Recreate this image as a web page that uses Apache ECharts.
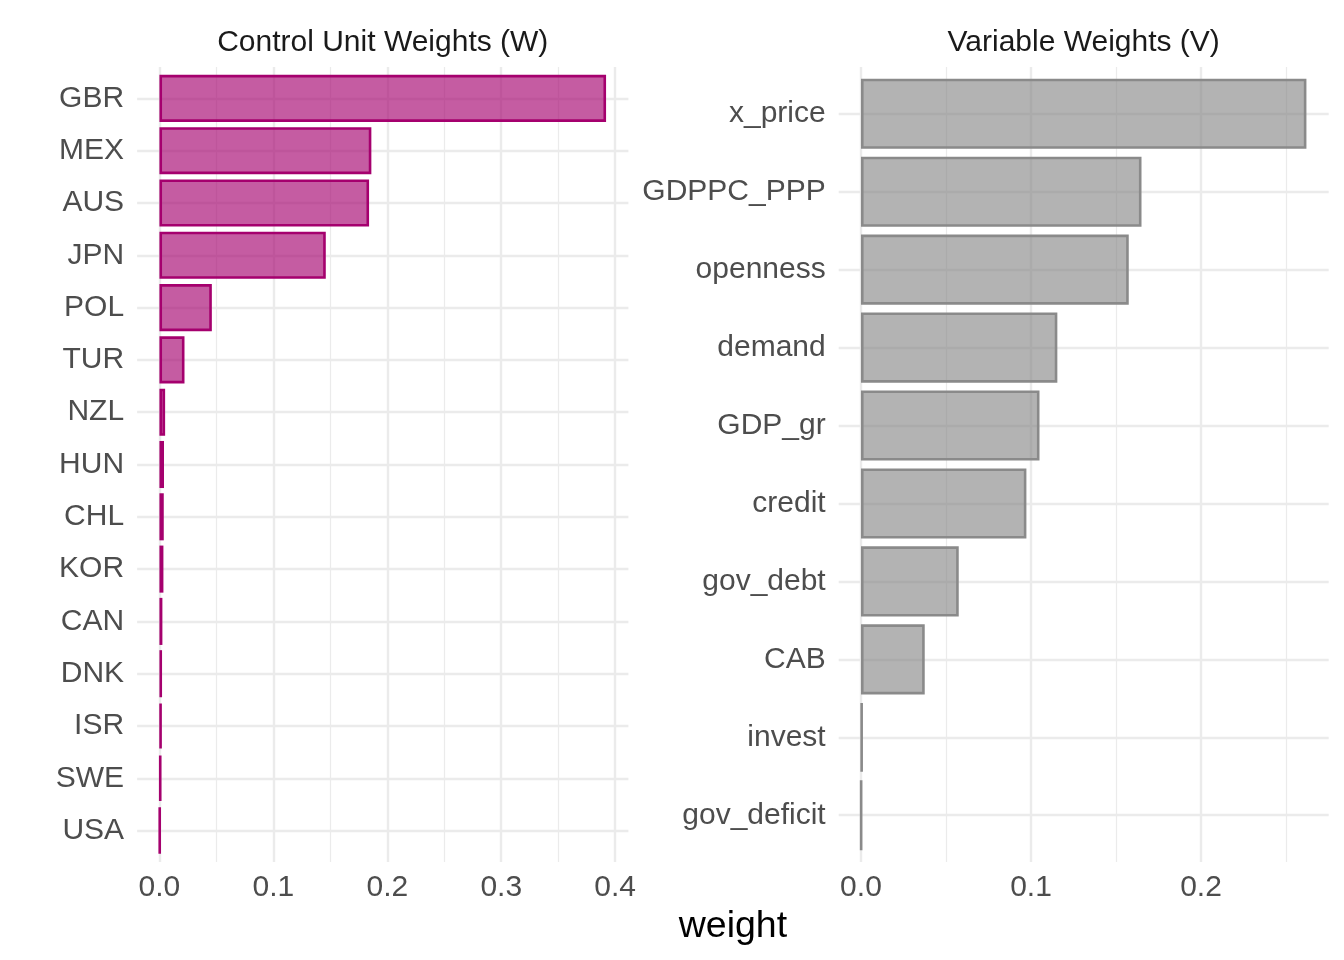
<!DOCTYPE html>
<html>
<head>
<meta charset="utf-8">
<script src="https://cdn.jsdelivr.net/npm/echarts@6/dist/echarts.min.js"></script>
<style>
html,body{margin:0;padding:0;background:#fff;}
#chart{width:1344px;height:960px;}
</style>
</head>
<body>
<div id="chart"></div>
<script>
// ---- data ----
const countries = ['GBR','MEX','AUS','JPN','POL','TUR','NZL','HUN','CHL','KOR','CAN','DNK','ISR','SWE','USA'];
const countryWeights = [0.392,0.186,0.184,0.146,0.046,0.022,0.005,0.004,0.0038,0.0035,0.0026,0.0023,0.002,0.0014,0.0005];
const variables = ['x_price','GDPPC_PPP','openness','demand','GDP_gr','credit','gov_debt','CAB','invest','gov_deficit'];
const variableWeights = [0.262,0.165,0.1575,0.1155,0.105,0.0973,0.0575,0.0375,0.0008,0.0002];
const wMajorTicks = [0,0.1,0.2,0.3,0.4];
const wMinorTicks = [0.05,0.15,0.25,0.35];
const vMajorTicks = [0,0.1,0.2];
const vMinorTicks = [0.05,0.15,0.25];
const titles = ['Control Unit Weights (W)','Variable Weights (V)'];
const xTitle = 'weight';

// ---- layout ----
const FONT = "'Liberation Sans', Arial, Helvetica, sans-serif";
const panelTop = 67, panelH = 795;
const L = {left: 137.1, width: 491.3};
const R = {left: 838.7, width: 490};
const wMax = Math.max(...countryWeights), vMax = Math.max(...variableWeights);
const wRange = [-0.05*wMax, 1.05*wMax];
const vRange = [-0.05*vMax, 1.05*vMax];
const unitL = panelH/(countries.length+0.2);
const unitR = panelH/(variables.length+0.2);

const gridColor = '#ebebeb';
const majorW = 2.4, minorW = 1.2;
const LABEL_SIZE = 30;

function lineAxis(gridIndex, range, ticks, width, showLabel){
  return {
    type:'value', gridIndex, min:range[0], max:range[1],
    axisLine:{show:false},
    axisTick:{show:false, customValues:ticks},
    axisLabel:{show:showLabel, customValues:ticks, color:'#4d4d4d', fontSize:LABEL_SIZE, fontFamily:FONT, margin:11,
      formatter:v=>Number(v).toFixed(1)},
    splitLine:{show:true, lineStyle:{color:gridColor, width:width}}
  };
}
function hiddenX(gridIndex, range){
  return {type:'value', gridIndex, min:range[0], max:range[1], show:false, splitLine:{show:false}};
}
function catAxis(gridIndex, cats){
  return {
    type:'category', gridIndex, data:cats, inverse:true,
    axisLine:{show:false},
    axisTick:{show:false, alignWithLabel:true},
    axisLabel:{color:'#4d4d4d', fontSize:LABEL_SIZE, fontFamily:FONT, margin:13, padding:[2,0,0,0]},
    splitLine:{show:true, alignWithLabel:true, lineStyle:{color:gridColor, width:majorW}}
  };
}

const option = {
  backgroundColor:'#ffffff',
  animation:false,
  grid:[
    {left:L.left, width:L.width, top:panelTop, height:panelH, containLabel:false},
    {left:L.left, width:L.width, top:panelTop+0.1*unitL, height:unitL*countries.length, containLabel:false},
    {left:R.left, width:R.width, top:panelTop, height:panelH, containLabel:false},
    {left:R.left, width:R.width, top:panelTop+0.1*unitR, height:unitR*variables.length, containLabel:false}
  ],
  xAxis:[
    lineAxis(0, wRange, wMajorTicks, majorW, true),
    lineAxis(0, wRange, wMinorTicks, minorW, false),
    hiddenX(1, wRange),
    lineAxis(2, vRange, vMajorTicks, majorW, true),
    lineAxis(2, vRange, vMinorTicks, minorW, false),
    hiddenX(3, vRange)
  ],
  yAxis:[
    {type:'value', gridIndex:0, min:0, max:1, show:false, splitLine:{show:false}},
    catAxis(1, countries),
    {type:'value', gridIndex:2, min:0, max:1, show:false, splitLine:{show:false}},
    catAxis(3, variables)
  ],
  series:[
    {type:'bar', xAxisIndex:2, yAxisIndex:1, data:countryWeights, barCategoryGap:'10%',
      itemStyle:{color:'rgba(165,0,110,0.64)', borderColor:'#a5006e', borderWidth:2.6}},
    {type:'bar', xAxisIndex:5, yAxisIndex:3, data:variableWeights, barCategoryGap:'10%',
      itemStyle:{color:'rgba(128,128,128,0.6)', borderColor:'#8a8a8a', borderWidth:2.6}}
  ],
  graphic:[
    {type:'text', x:L.left+L.width/2, y:43, style:{text:titles[0], fill:'#1a1a1a', font:'30px '+FONT, textAlign:'center', textVerticalAlign:'middle'}},
    {type:'text', x:R.left+R.width/2, y:43, style:{text:titles[1], fill:'#1a1a1a', font:'30px '+FONT, textAlign:'center', textVerticalAlign:'middle'}},
    {type:'text', x:(L.left+R.left+R.width)/2, y:927, style:{text:xTitle, fill:'#000000', font:'37.5px '+FONT, textAlign:'center', textVerticalAlign:'middle'}}
  ]
};
const chart = echarts.init(document.getElementById('chart'), null, {renderer:'canvas'});
chart.setOption(option);
</script>
</body>
</html>
